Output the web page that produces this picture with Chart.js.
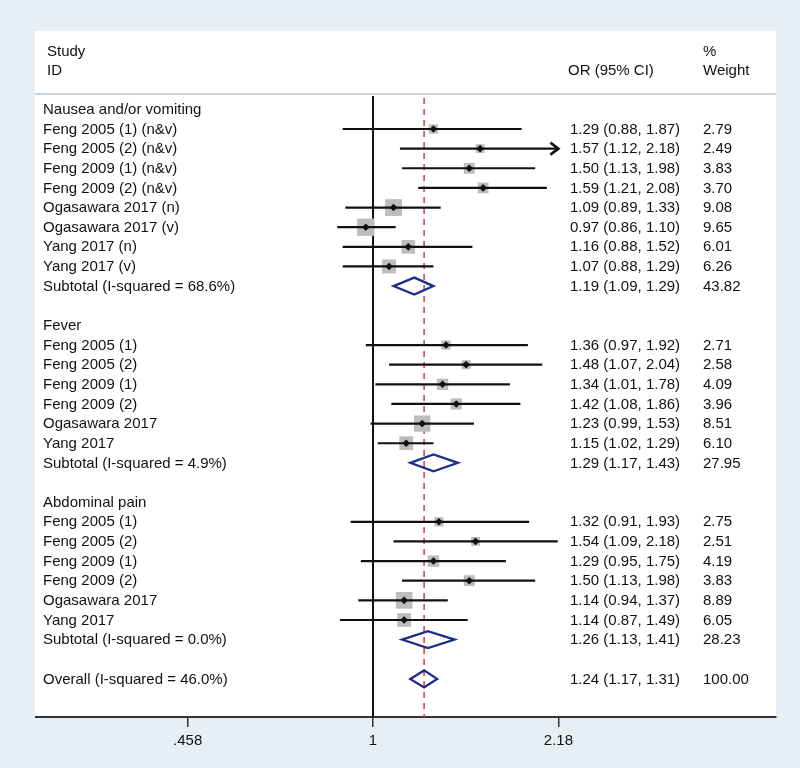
<!DOCTYPE html>
<html>
<head>
<meta charset="utf-8">
<script src="https://cdn.jsdelivr.net/npm/chart.js@4.4.1/dist/chart.umd.min.js"></script>
<style>
  html, body { margin: 0; padding: 0; background: #e7eff4; }
  #wrap { width: 800px; height: 768px; }
</style>
</head>
<body>
<div id="wrap"><canvas id="c" width="800" height="768"></canvas></div>
<script>
// ---------------- DATA ----------------
const rowLabels = [
  'Nausea and/or vomiting',
  'Feng 2005 (1) (n&v)', 'Feng 2005 (2) (n&v)', 'Feng 2009 (1) (n&v)', 'Feng 2009 (2) (n&v)',
  'Ogasawara 2017 (n)', 'Ogasawara 2017 (v)', 'Yang 2017 (n)', 'Yang 2017 (v)',
  'Subtotal (I-squared = 68.6%)',
  '',
  'Fever',
  'Feng 2005 (1)', 'Feng 2005 (2)', 'Feng 2009 (1)', 'Feng 2009 (2)', 'Ogasawara 2017', 'Yang 2017',
  'Subtotal (I-squared = 4.9%)',
  '',
  'Abdominal pain',
  'Feng 2005 (1)', 'Feng 2005 (2)', 'Feng 2009 (1)', 'Feng 2009 (2)', 'Ogasawara 2017', 'Yang 2017',
  'Subtotal (I-squared = 0.0%)',
  '',
  'Overall (I-squared = 46.0%)'
];
const rowKinds = [
  'group',
  'study','study','study','study','study','study','study','study',
  'pooled',
  'blank',
  'group',
  'study','study','study','study','study','study',
  'pooled',
  'blank',
  'group',
  'study','study','study','study','study','study',
  'pooled',
  'blank',
  'pooled'
];
const oddsRatios = [
  null,
  1.29, 1.57, 1.50, 1.59, 1.09, 0.97, 1.16, 1.07,
  1.19,
  null,
  null,
  1.36, 1.48, 1.34, 1.42, 1.23, 1.15,
  1.29,
  null,
  null,
  1.32, 1.54, 1.29, 1.50, 1.14, 1.14,
  1.26,
  null,
  1.24
];
const ciLower = [
  null,
  0.88, 1.12, 1.13, 1.21, 0.89, 0.86, 0.88, 0.88,
  1.09,
  null,
  null,
  0.97, 1.07, 1.01, 1.08, 0.99, 1.02,
  1.17,
  null,
  null,
  0.91, 1.09, 0.95, 1.13, 0.94, 0.87,
  1.13,
  null,
  1.17
];
const ciUpper = [
  null,
  1.87, 2.184, 1.98, 2.08, 1.33, 1.10, 1.52, 1.29,
  1.29,
  null,
  null,
  1.92, 2.04, 1.78, 1.86, 1.53, 1.29,
  1.43,
  null,
  null,
  1.93, 2.177, 1.75, 1.98, 1.37, 1.49,
  1.41,
  null,
  1.31
];
const weights = [
  null,
  2.79, 2.49, 3.83, 3.70, 9.08, 9.65, 6.01, 6.26,
  43.82,
  null,
  null,
  2.71, 2.58, 4.09, 3.96, 8.51, 6.10,
  27.95,
  null,
  null,
  2.75, 2.51, 4.19, 3.83, 8.89, 6.05,
  28.23,
  null,
  100.00
];
const tickValues = [0.458, 1, 2.1834];
const tickLabels = ['.458', '1', '2.18'];
const nullValue = 1;
const overallEstimate = 1.24;
const headerStudy = ['Study', 'ID'];
const headerOR = 'OR (95% CI)';
const headerWeight = ['%', 'Weight'];

// ---------------- STYLE ----------------
const FONT_FAMILY = '"Liberation Sans", Arial, Helvetica, sans-serif';
const FONT = '15px ' + FONT_FAMILY;
const TEXT_COLOR = '#111111';
const BG = '#e7eff4';
const BOX_COLOR = '#bdbdbd';
const DIAMOND_COLOR = '#1f2d86';
const RED = '#c4424c';
const X_MIN = 0.2418, X_MAX = 5.46;
const CLIP_MAX = tickValues[tickValues.length - 1];
const COL_LABEL_X = 43, COL_HEADER_X = 47, COL_OR_X = 570, COL_W_X = 703;

const studyIdx = rowKinds.map((k, i) => k === 'study' ? i : -1).filter(i => i >= 0);
const boxData = studyIdx.map(i => ({ x: oddsRatios[i], y: i, w: weights[i] }));

const decorPlugin = {
  id: 'forestDecor',
  beforeDraw(chart) {
    const ctx = chart.ctx;
    const a = chart.chartArea;
    ctx.save();
    ctx.fillStyle = BG;
    ctx.fillRect(0, 0, chart.width, chart.height);
    ctx.fillStyle = '#ffffff';
    ctx.fillRect(a.left - 1, 31, a.right - a.left + 1, a.bottom - 31);
    ctx.strokeStyle = '#c9d1d5';
    ctx.lineWidth = 2;
    ctx.beginPath();
    ctx.moveTo(a.left - 1, 94);
    ctx.lineTo(a.right, 94);
    ctx.stroke();
    // header text
    ctx.fillStyle = TEXT_COLOR;
    ctx.font = FONT;
    ctx.textBaseline = 'middle';
    ctx.textAlign = 'left';
    ctx.fillText(headerStudy[0], COL_HEADER_X, 52);
    ctx.fillText(headerStudy[1], COL_HEADER_X, 71);
    ctx.fillText(headerOR, COL_OR_X - 2, 71);
    ctx.fillText(headerWeight[0], COL_W_X, 52);
    ctx.fillText(headerWeight[1], COL_W_X, 71);
    ctx.restore();
  },
  beforeDatasetsDraw(chart) {
    const ctx = chart.ctx, a = chart.chartArea;
    const xs = chart.scales.x;
    ctx.save();
    const x1 = xs.getPixelForValue(nullValue);
    ctx.strokeStyle = '#111';
    ctx.lineWidth = 2;
    ctx.beginPath();
    ctx.moveTo(x1, a.top);
    ctx.lineTo(x1, a.bottom);
    ctx.stroke();
    const xo = xs.getPixelForValue(overallEstimate);
    ctx.strokeStyle = RED;
    ctx.lineWidth = 1.5;
    ctx.setLineDash([6, 5]);
    ctx.beginPath();
    ctx.moveTo(xo, a.top + 2);
    ctx.lineTo(xo, a.bottom);
    ctx.stroke();
    ctx.restore();
  },
  afterDatasetDraw(chart, args) {
    if (args.index !== 0) return;
    const ctx = chart.ctx;
    const xs = chart.scales.x, ys = chart.scales.y;
    ctx.save();
    ctx.strokeStyle = '#111';
    ctx.lineWidth = 2.2;
    studyIdx.forEach(i => {
      const y = ys.getPixelForValue(i);
      const clipped = ciUpper[i] > CLIP_MAX;
      const xl = xs.getPixelForValue(ciLower[i]);
      const xh = xs.getPixelForValue(clipped ? CLIP_MAX : ciUpper[i]);
      ctx.beginPath();
      ctx.moveTo(xl, y);
      ctx.lineTo(xh, y);
      ctx.stroke();
      if (clipped) {
        ctx.lineWidth = 2.6;
        ctx.beginPath();
        ctx.moveTo(xh - 8, y - 6);
        ctx.lineTo(xh, y);
        ctx.lineTo(xh - 8, y + 6);
        ctx.stroke();
        ctx.lineWidth = 2.2;
      }
    });
    ctx.restore();
  },
  afterDatasetsDraw(chart) {
    const ctx = chart.ctx;
    const xs = chart.scales.x, ys = chart.scales.y;
    ctx.save();
    ctx.strokeStyle = DIAMOND_COLOR;
    ctx.fillStyle = '#ffffff';
    ctx.lineWidth = 2.3;
    ctx.lineJoin = 'miter';
    rowKinds.forEach((k, i) => {
      if (k !== 'pooled') return;
      const y = ys.getPixelForValue(i);
      const xl = xs.getPixelForValue(ciLower[i]);
      const xm = xs.getPixelForValue(oddsRatios[i]);
      const xh = xs.getPixelForValue(ciUpper[i]);
      ctx.beginPath();
      ctx.moveTo(xl, y);
      ctx.lineTo(xm, y - 8.5);
      ctx.lineTo(xh, y);
      ctx.lineTo(xm, y + 8.5);
      ctx.closePath();
      ctx.stroke();
    });
    ctx.fillStyle = TEXT_COLOR;
    ctx.font = FONT;
    ctx.textBaseline = 'middle';
    ctx.textAlign = 'left';
    rowKinds.forEach((k, i) => {
      if (k === 'blank') return;
      const y = ys.getPixelForValue(i) + 0.5;
      ctx.fillText(rowLabels[i], COL_LABEL_X, y);
      if (oddsRatios[i] != null) {
        const t = oddsRatios[i].toFixed(2) + ' (' + ciLower[i].toFixed(2) + ', ' + ciUpper[i].toFixed(2) + ')';
        ctx.fillText(t, COL_OR_X, y);
        ctx.fillText(weights[i].toFixed(2), COL_W_X, y);
      }
    });
    ctx.restore();
  }
};

new Chart(document.getElementById('c'), {
  type: 'scatter',
  data: {
    datasets: [
      {
        label: 'weight boxes',
        data: boxData,
        order: 2,
        pointStyle: 'rect',
        backgroundColor: BOX_COLOR,
        borderWidth: 0,
        pointRadius: ctx => 3.95 * Math.sqrt(ctx.raw ? ctx.raw.w : 1),
        pointHoverRadius: ctx => 3.95 * Math.sqrt(ctx.raw ? ctx.raw.w : 1)
      },
      {
        label: 'estimates',
        data: boxData,
        order: 1,
        pointStyle: 'rectRot',
        backgroundColor: '#111',
        borderColor: '#111',
        borderWidth: 0,
        pointRadius: 3.8,
        pointHoverRadius: 3.8
      }
    ]
  },
  options: {
    responsive: false,
    animation: false,
    events: [],
    layout: { padding: { left: 36, right: 24, top: 96, bottom: 11 } },
    plugins: { legend: { display: false }, tooltip: { enabled: false } },
    scales: {
      x: {
        type: 'logarithmic',
        position: 'bottom',
        min: X_MIN,
        max: X_MAX,
        afterBuildTicks: s => { s.ticks = tickValues.map(v => ({ value: v })); },
        afterFit: s => { s.height = 40; },
        ticks: {
          autoSkip: false,
          maxRotation: 0,
          padding: 5,
          color: TEXT_COLOR,
          font: { family: FONT_FAMILY, size: 15 },
          callback: (v, idx) => tickLabels[idx]
        },
        grid: { drawOnChartArea: false, drawTicks: true, tickLength: 10, color: '#333', lineWidth: 1.5 },
        border: { display: true, color: '#333', width: 2 }
      },
      y: {
        type: 'linear',
        reverse: true,
        min: -0.68,
        max: 30.94,
        display: false
      }
    }
  },
  plugins: [decorPlugin]
});
</script>
</body>
</html>
